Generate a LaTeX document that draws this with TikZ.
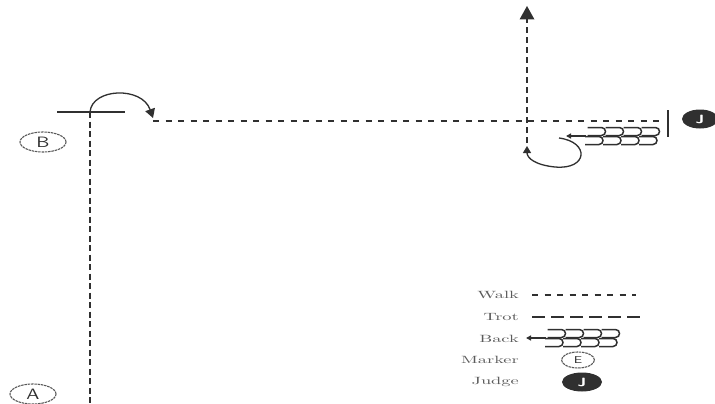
\documentclass[tikz,border=0pt]{standalone}
\usetikzlibrary{arrows.meta,shapes.geometric}
\definecolor{ink}{HTML}{303030}
\definecolor{lblc}{HTML}{5A5A5A}
\tikzset{
  walkline/.style={draw=ink, line width=2.5pt, dash pattern=on 6pt off 6.5pt},
  trotline/.style={draw=ink, line width=2.6pt, dash pattern=on 13pt off 6pt},
  vline/.style={draw=ink, line width=2.6pt, dash pattern=on 6pt off 3.5pt},
  thinline/.style={draw=ink, line width=1.3pt},
  marker/.style={ellipse, draw=gray!70!black, line width=1.1pt, dash pattern=on 2.5pt off 0.8pt,
    minimum width=46pt, minimum height=20pt, inner sep=0pt, font=\sffamily, text=ink},
  judge/.style={ellipse, fill=ink, minimum width=38pt, minimum height=19pt, inner sep=0pt,
    text=white, font=\sffamily\bfseries\large},
  lbl/.style={anchor=east, text=lblc, inner sep=0pt, font=\fontsize{10.5}{12}\selectfont},
  backsym/.pic={
    \foreach \r/\dx in {-4.5/1.5, 4.5/-1}{
      \foreach \i in {0,...,3}{
        \draw[ink, line width=1.5pt] ({\dx+18*\i},\r-4) -- ({\dx+18*\i+14},\r-4)
          .. controls ({\dx+18*\i+19.3},\r-4) and ({\dx+18*\i+19.3},\r+4) .. ({\dx+18*\i+14},\r+4)
          -- ({\dx+18*\i},\r+4);
      }}
    \draw[ink, line width=1.4pt, -{Triangle[length=5pt,width=5pt]}] (0,0) -- (-20,0);
  }
}
\begin{document}
\begin{tikzpicture}[x=1pt,y=-1pt]
\useasboundingbox (0,0) rectangle (715,404);
% markers and judge
\node[marker] (B) at (43,142) {\scalebox{1.35}[1]{\fontsize{15}{15}\selectfont B}};
\node[marker] (A) at (33,394) {\scalebox{1.35}[1]{\fontsize{15}{15}\selectfont A}};
\node[judge, minimum width=36pt] (J) at (700,119) {\scalebox{1.4}[1]{J}};
% left track
\coordinate (v1t) at (90,112);
\coordinate (v1b) at (90,404);
\coordinate (h1l) at (57,112);
\coordinate (h1r) at (125,112);
\coordinate (ctip) at (153,118);
\draw[vline] (v1t) -- (v1b);
\draw[thinline] (h1l) -- (h1r);
\draw[thinline, -{Triangle[length=9pt,width=10pt]}] (v1t) .. controls (92,88) and (142,86) .. (ctip);
% walk line
\coordinate (wl) at (153,121);
\coordinate (wr) at (660,121);
\draw[walkline] (wl) -- (wr);
\coordinate (bt) at (668,110);
\coordinate (bb) at (668,137);
\draw[thinline] (bt) -- (bb);
% vertical exit
\coordinate (vt) at (527,19);
\coordinate (vb) at (527,143);
\draw[vline, dash pattern=on 6pt off 4pt] (vb) -- (vt);
\fill[ink] (527,6) -- (519.5,19.5) -- (534.5,19.5) -- cycle;
% back symbol and loop
\pic at (586,136) {backsym};
\coordinate (ls) at (559,138);
\coordinate (le) at (527,146);
\draw[thinline, -{Triangle[length=7pt,width=8pt]}] (ls) .. controls (590,142) and (588,170) .. (555,167)
   .. controls (535,165) and (527,158) .. (le);
% legend
\node[lbl] (tw) at (519,295) {\scalebox{1.75}[1]{Walk}};
\node[lbl] (tt) at (519,317) {\scalebox{1.75}[1]{Trot}};
\node[lbl] (tb) at (519,339) {\scalebox{1.75}[1]{Back}};
\node[lbl] (tm) at (519,360) {\scalebox{1.75}[1]{Marker}};
\node[lbl] (tj) at (519,382) {\scalebox{1.75}[1]{Judge}};
\coordinate (lw1) at (532,295);
\coordinate (lw2) at (636,295);
\draw[walkline] (lw1) -- (lw2);
\coordinate (lt1) at (532,317);
\coordinate (lt2) at (642,317);
\draw[trotline] (lt1) -- (lt2);
\pic at (546,338) {backsym};
\node[marker, minimum width=33pt, minimum height=16pt] (E) at (578,360) {\scalebox{1.4}[1]{E}};
\node[judge, minimum width=40pt, minimum height=19pt] (Jl) at (582,382) {\scalebox{1.4}[1]{J}};
\end{tikzpicture}
\end{document}
